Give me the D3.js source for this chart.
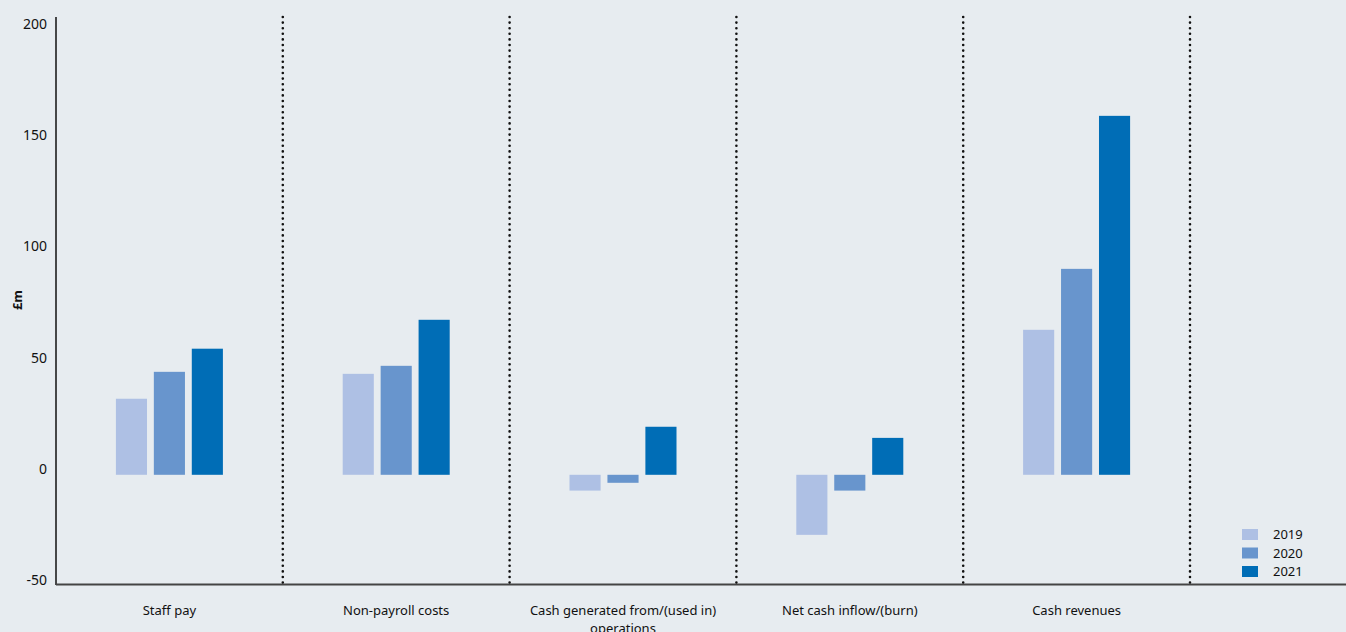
<!DOCTYPE html>
<html>
<head>
<meta charset="utf-8">
<script src="https://cdn.jsdelivr.net/npm/d3@7"></script>
<style>
  html, body { margin: 0; padding: 0; background: #e7ecf0; }
  svg { display: block; font-family: "Noto Sans", sans-serif; }
</style>
</head>
<body>
<svg width="1346" height="632"></svg>
<script>
const categories = ["Staff pay", "Non-payroll costs", "Cash generated from/(used in) operations", "Net cash inflow/(burn)", "Cash revenues"];
const years = ["2019", "2020", "2021"];
const values2019 = [34.2, 45.4, -7.1, -27, 65.2];
const values2020 = [46.3, 49, -3.6, -7.1, 92.6];
const values2021 = [56.7, 69.7, 21.6, 16.6, 161.4];
const yTicks = [-50, 0, 50, 100, 150, 200];
const colors = ["#aec0e4", "#6895cd", "#006db6"];

const series = [values2019, values2020, values2021];
const data = categories.map((c, i) => ({ cat: c, vals: years.map((y, j) => ({ year: y, v: series[j][i] })) }));

const svg = d3.select("svg");
const plotLeft = 56, plotTop = 17;

const xScale = d3.scaleBand().domain(categories).range([plotLeft, 1190]);
const yScale = d3.scaleLinear().domain([-50, 200]).range([586, 30]);
const inner = d3.scaleBand().domain(years).range([0, 107]).paddingInner(0.18);

// y axis line + labels
svg.append("line")
  .attr("x1", plotLeft).attr("x2", plotLeft)
  .attr("y1", plotTop).attr("y2", 585)
  .attr("stroke", "#111").attr("stroke-width", 1.5);

svg.append("g").selectAll("text")
  .data(yTicks)
  .join("text")
  .attr("x", 47)
  .attr("y", d => yScale(d) - 1)
  .attr("text-anchor", "end")
  .attr("font-size", 14)
  .attr("fill", "#111")
  .text(d => d);

svg.append("text")
  .attr("transform", "translate(22,300) rotate(-90)")
  .attr("text-anchor", "middle")
  .attr("font-size", 13)
  .attr("font-weight", "bold")
  .attr("fill", "#111")
  .text("£m");

// dotted separators between categories
svg.append("g").selectAll("line")
  .data(categories)
  .join("line")
  .attr("x1", d => xScale(d) + xScale.bandwidth())
  .attr("x2", d => xScale(d) + xScale.bandwidth())
  .attr("y1", plotTop).attr("y2", 584)
  .attr("stroke", "#111")
  .attr("stroke-width", 2.6)
  .attr("stroke-linecap", "round")
  .attr("stroke-dasharray", "0,5.6");

// bars
const groups = svg.append("g").selectAll("g")
  .data(data)
  .join("g")
  .attr("transform", d => `translate(${xScale(d.cat) + (xScale.bandwidth() - 107) / 2},0)`);

groups.selectAll("rect")
  .data(d => d.vals)
  .join("rect")
  .attr("x", d => inner(d.year))
  .attr("width", inner.bandwidth())
  .attr("y", d => yScale(Math.max(0, d.v)))
  .attr("height", d => Math.abs(yScale(d.v) - yScale(0)))
  .attr("fill", (d, i) => colors[i]);

// x axis line
svg.append("line")
  .attr("x1", plotLeft).attr("x2", 1346)
  .attr("y1", 584.5).attr("y2", 584.5)
  .attr("stroke", "#444").attr("stroke-width", 2);

// category labels, wrapped
const wrapAt = 30;
svg.append("g").selectAll("text")
  .data(categories)
  .join("text")
  .attr("x", d => xScale(d) + xScale.bandwidth() / 2)
  .attr("y", 615)
  .attr("text-anchor", "middle")
  .attr("font-size", 13)
  .attr("fill", "#111")
  .each(function (d) {
    const lines = [];
    let cur = "";
    d.split(" ").forEach(w => {
      if ((cur + " " + w).trim().length > wrapAt) { lines.push(cur); cur = w; }
      else cur = (cur + " " + w).trim();
    });
    lines.push(cur);
    d3.select(this).selectAll("tspan")
      .data(lines)
      .join("tspan")
      .attr("x", xScale(d) + xScale.bandwidth() / 2)
      .attr("dy", (l, i) => i ? 18 : 0)
      .text(l => l);
  });

// legend
const legend = svg.append("g").attr("transform", "translate(1242,529)");
legend.selectAll("rect")
  .data(years)
  .join("rect")
  .attr("x", 0)
  .attr("y", (d, i) => i * 18.5)
  .attr("width", 16)
  .attr("height", 11)
  .attr("fill", (d, i) => colors[i]);
legend.selectAll("text")
  .data(years)
  .join("text")
  .attr("x", 31)
  .attr("y", (d, i) => i * 18.5 + 10)
  .attr("font-size", 13)
  .attr("fill", "#111")
  .text(d => d);
</script>
</body>
</html>
